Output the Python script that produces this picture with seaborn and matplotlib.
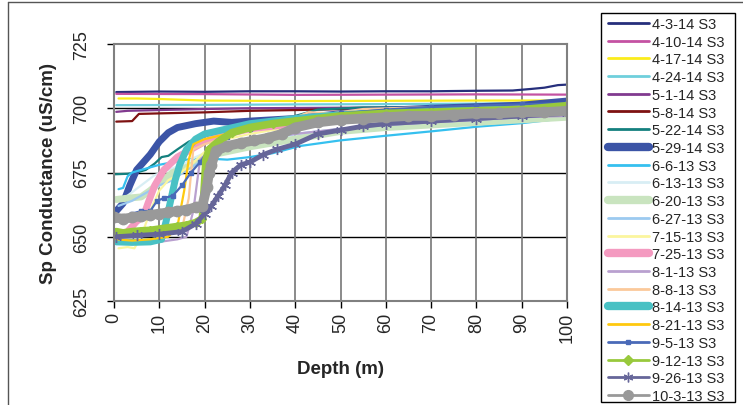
import numpy as np
import pandas as pd
import matplotlib
matplotlib.use("Agg")
import matplotlib.pyplot as plt
from matplotlib.lines import Line2D
from matplotlib.patches import Rectangle
import seaborn as sns

# series names (legend order)
labels = ["4-3-14 S3", "4-10-14 S3", "4-17-14 S3", "4-24-14 S3", "5-1-14 S3",
          "5-8-14 S3", "5-22-14 S3", "5-29-14 S3", "6-6-13 S3", "6-13-13 S3",
          "6-20-13 S3", "6-27-13 S3", "7-15-13 S3", "7-25-13 S3", "8-1-13 S3",
          "8-8-13 S3", "8-14-13 S3", "8-21-13 S3", "9-5-13 S3", "9-12-13 S3",
          "9-26-13 S3", "10-3-13 S3"]

# depth (m) / sp conductance (uS/cm)
d_0403 = [0.5, 10, 20, 30, 40, 50, 60, 70, 80, 88, 92, 95, 98, 100]
c_0403 = [706.3, 706.5, 706.4, 706.6, 706.6, 706.5, 706.6, 706.6, 706.8, 706.9, 707.5, 708.0, 709.0, 709.2]

d_0410 = [0.5, 20, 40, 60, 80, 100]
c_0410 = [705.6, 705.5, 705.2, 705.3, 705.4, 705.3]

d_0417 = [1, 5, 10, 15, 20, 30, 40, 60, 80, 100]
c_0417 = [703.8, 703.8, 703.6, 703.3, 703.0, 702.9, 702.8, 702.9, 703.0, 703.0]

d_0424 = [0.5, 20, 40, 60, 80, 100]
c_0424 = [701.2, 701.3, 701.5, 701.6, 701.8, 702.0]

d_0501 = [0.5, 3, 10, 20, 30, 50, 70, 100]
c_0501 = [698.6, 699.0, 699.3, 699.7, 700.0, 700.2, 700.4, 700.6]

d_0508 = [0.5, 4, 5.5, 10, 20, 30, 40, 55, 70, 100]
c_0508 = [694.8, 695.0, 697.8, 698.0, 698.4, 699.0, 699.3, 699.8, 700.0, 700.3]

d_0522 = [0, 3, 5, 7, 9, 10.5, 12, 14, 16.5, 19.5, 23, 30, 35, 40, 45, 55, 70, 100]
c_0522 = [674.3, 674.5, 675, 676, 678.5, 681, 681.5, 684, 687, 689, 690.2, 691.5, 693, 697, 699.5, 700.3, 700.5, 701]

d_0529 = [0.5, 2, 3.5, 5, 6.5, 8, 10, 12, 14, 18, 22, 26, 30, 40, 48, 55, 70, 90, 100]
c_0529 = [660, 663, 670, 676, 679, 682, 687, 690.5, 692.5, 694, 695, 694.5, 695, 696, 697.5, 698.8, 700, 701.2, 702.8]

d_0606 = [1, 2, 3, 4, 6, 8, 10, 13, 16, 20, 25, 30, 35, 41, 50, 60, 70, 80, 90, 98, 100]
c_0606 = [668.5, 669, 673.5, 675, 676, 677, 678, 679, 680, 680.5, 680, 681, 682.5, 685.3, 687.5, 689.3, 691, 692.8, 694.2, 695.8, 697.5]

d_0613 = [0.5, 3, 6, 9, 12, 15, 18, 22, 30, 40, 50, 60, 70, 80, 90, 100]
c_0613 = [664, 666, 670, 674, 676, 678, 681, 684, 687, 689, 691, 692.5, 694, 695, 696, 697]

d_0620 = [0.5, 3, 6, 8, 10, 13, 16, 19, 22, 30, 40, 50, 60, 70, 80, 90, 100]
c_0620 = [664.5, 665, 665.5, 668, 671, 675, 677, 679.5, 682, 685, 688, 691, 692.5, 693.5, 694.5, 695.5, 696.5]

d_0627 = [1, 4, 7, 10, 13, 16, 20, 25, 30, 40, 50, 60, 70, 80, 90, 100]
c_0627 = [662, 664, 667, 670, 672, 676, 680, 684, 687, 690, 692, 693.5, 694.5, 695.5, 696.5, 697.5]

d_0715 = [1, 3, 4.5, 6, 8, 10, 12, 14, 17, 20, 25, 30, 40, 50, 70, 100]
c_0715 = [645.5, 646, 645.5, 650, 660, 668, 672, 674, 678, 683, 688, 690, 693, 695, 697, 699]

d_0725 = [1, 3, 5, 6.5, 7.5, 9, 11, 14, 17, 20, 25, 30, 40, 50, 70, 100]
c_0725 = [650, 652, 656, 658, 663, 670, 676, 681, 684, 687, 690, 692, 694, 696, 698, 699.5]

d_0801 = [1, 5, 10, 14, 16, 17.5, 19, 22, 30, 40, 50, 60, 70, 80, 90, 100]
c_0801 = [647.5, 647.8, 648, 649, 650, 660, 680, 685, 688, 690, 692, 693.5, 694.5, 695.5, 696.5, 697]

d_0808 = [1, 5, 10, 15, 16.5, 17.5, 20, 25, 30, 35, 38, 43, 48, 55, 65, 80, 100]
c_0808 = [650, 650, 651, 653, 665, 684, 686, 689, 691.5, 694, 695, 698.5, 698, 699.7, 700.2, 700.5, 701]

d_0814 = [0.5, 4, 8, 10.5, 11.5, 12.5, 13.5, 14.5, 16, 18, 20, 25, 30, 40, 50, 70, 100]
c_0814 = [648, 647.8, 648, 649, 656, 664, 672, 678, 684, 688, 690, 692, 694, 696, 697.5, 699, 700]

d_0821 = [0.5, 4, 8, 12, 14, 15.5, 16.5, 17.5, 20, 25, 30, 40, 60, 100]
c_0821 = [649, 648.5, 649, 650, 654, 668, 680, 686, 688, 690, 692, 695, 698, 700]

d_0905 = [0.5, 2, 4, 6, 8, 9.5, 11, 13, 15, 17, 19, 21, 25, 30, 40, 50, 60, 70, 80, 90, 100]
c_0905 = [658, 657.5, 659, 660, 660, 664, 665, 666, 670, 675, 679, 684, 689, 692, 695, 698, 699.5, 700.5, 701, 701.5, 702]

d_0912 = [0.5, 2, 4, 6, 8, 10, 12, 14, 16, 18, 19.5, 20.3, 21, 23, 26, 30, 35, 40, 45, 50, 60, 70, 80, 90, 100]
c_0912 = [652, 651.5, 652, 652.3, 652.5, 653, 653.5, 654, 654.5, 655.5, 657, 680, 684, 687, 690.5, 692.5, 694, 695, 696, 697, 698, 698.5, 699, 699.5, 701]

d_0926 = [0.5, 5, 10, 15, 18, 20, 21.5, 23, 24.5, 26, 28, 30, 33, 36, 40, 45, 50, 55, 60, 70, 80, 90, 100]
c_0926 = [650, 650.5, 651, 652, 655, 659, 662, 666, 670, 675, 678, 679, 682, 684, 686, 690, 691.5, 693, 694, 695, 696, 697, 698]

d_1003 = [0, 2, 4, 6, 8, 10, 12, 14, 16, 18, 19.5, 20.5, 21, 21.5, 22.5, 25, 28, 31, 34, 37, 40, 45, 50, 55, 60, 65, 70, 75, 80, 85, 90, 95, 100]
c_1003 = [657.5, 657, 657.5, 658, 658.5, 659, 659.5, 660, 660.5, 661.5, 662, 669.4, 675, 678, 683.4, 685.3, 686.5, 687.5, 688.5, 690, 692.5, 694.5, 695.5, 696, 696.5, 697, 697, 697.5, 698, 698, 698.5, 698.5, 699]

depths = [d_0403, d_0410, d_0417, d_0424, d_0501, d_0508, d_0522, d_0529, d_0606, d_0613,
          d_0620, d_0627, d_0715, d_0725, d_0801, d_0808, d_0814, d_0821, d_0905, d_0912,
          d_0926, d_1003]
conds = [c_0403, c_0410, c_0417, c_0424, c_0501, c_0508, c_0522, c_0529, c_0606, c_0613,
         c_0620, c_0627, c_0715, c_0725, c_0801, c_0808, c_0814, c_0821, c_0905, c_0912,
         c_0926, c_1003]

colors = ["#262f7c", "#c452a2", "#fbec1c", "#6fcfdc", "#813a8f", "#7e1212", "#14807e",
          "#3b54a6", "#35c0ef", "#d8eef4", "#c9e4bf", "#9ccaf0", "#fbf59e", "#f49ac0",
          "#b9a0cf", "#fbc99a", "#49c1c4", "#ffc90e", "#4a6ab8", "#98c93c", "#666699",
          "#999999"]
# (plot linewidth, marker, markersize, legend linewidth, legend markersize)
asterisk = (6, 2, 0)
thin = (1.6, None, 0, 2, 0)
thick = (5, None, 0, 6, 0)
styles = [thin] * 7 + [thick] + [thin] * 2 + [thick] + [thin] * 2 + [thick] + \
         [thin] * 2 + [thick] + [thin] + \
         [(1.6, "s", 2.5, 2, 3.5), (5.5, "D", 4.5, 2, 5.5),
          (3.5, asterisk, 8, 2, 7), (7, "o", 7.5, 2, 7)]

sns.set_style("white")
plt.rcParams["font.family"] = ["Liberation Sans", "DejaVu Sans"]

fig = plt.figure(figsize=(7.43, 4.06), dpi=100)
ax = fig.add_axes([114 / 743, 1 - 302 / 406, 453 / 743, 257 / 406])

handles = []
for lab, d, c, col, st in zip(labels, depths, conds, colors, styles):
    lw, mk, ms, llw, lms = st
    df = pd.DataFrame({"Depth": d, "Cond": c})
    sns.lineplot(data=df, x="Depth", y="Cond", ax=ax, color=col, linewidth=lw,
                 marker=mk, markersize=ms, markeredgecolor=col, markeredgewidth=1,
                 estimator=None, sort=False, legend=False,
                 solid_capstyle="round", solid_joinstyle="round")
    handles.append(Line2D([], [], color=col, lw=llw, marker=mk, markersize=lms,
                          markeredgecolor=col, solid_capstyle="round", label=lab))

ax.set_xlim(0, 100)
ax.set_ylim(625, 725)
ax.set_xticks(np.arange(0, 101, 10))
ax.set_yticks([625, 650, 675, 700, 725])
for y in [650, 675, 700]:
    ax.axhline(y, color="black", lw=1, zorder=0)
for x in range(10, 100, 10):
    ax.axvline(x, color="#777777", lw=1.2, zorder=0)
for s in ax.spines.values():
    s.set_color("#808080")
    s.set_linewidth(1.5)
ax.tick_params(axis="both", direction="out", length=5, width=1, color="black",
               labelsize=13, bottom=True, left=True)
ax.tick_params(axis="x", labelrotation=90, pad=3)
ax.tick_params(axis="y", labelrotation=90, pad=12)
for t in ax.get_yticklabels():
    t.set_va("center")

ax.set_xlabel("Depth (m)", fontsize=13.5, fontweight="bold", labelpad=13)
ax.set_ylabel("Sp Conductance (uS/cm)", fontsize=13.5, fontweight="bold", labelpad=12)

# legend: text block without frame, frame drawn as its own box like Excel
leg = fig.legend(handles=handles, loc="upper left", bbox_to_anchor=(608 / 743, 1 - 18 / 406),
                 bbox_transform=fig.transFigure, frameon=False,
                 fontsize=10.5, handlelength=2.8, handletextpad=0.2,
                 labelspacing=0.255, borderpad=0, borderaxespad=0)
fig.add_artist(Rectangle((601 / 743, 1 - 403 / 406), 134 / 743, 389 / 406,
                         transform=fig.transFigure, fill=False, edgecolor="black", lw=1))

# outer chart border
fig.add_artist(Line2D([8 / 743, 8 / 743], [0, 1 - 3 / 406], color="#555555", lw=1,
                      transform=fig.transFigure))
fig.add_artist(Line2D([8 / 743, 1], [1 - 3 / 406, 1 - 3 / 406], color="#555555", lw=1,
                      transform=fig.transFigure))

fig.savefig("out.png", dpi=100)
